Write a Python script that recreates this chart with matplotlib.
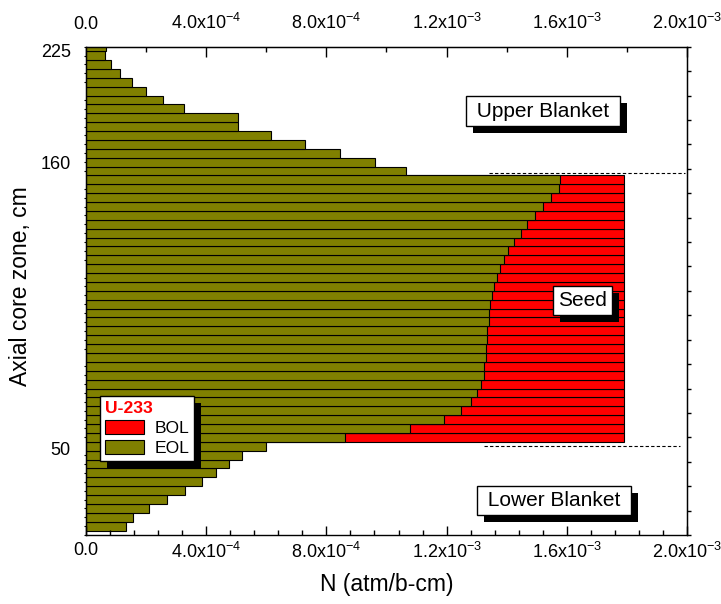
import numpy as np
import matplotlib
matplotlib.use("Agg")
import matplotlib.pyplot as plt
import matplotlib.patheffects as pe
from matplotlib.ticker import MultipleLocator

plt.rcParams['font.family'] = ['Liberation Sans', 'DejaVu Sans']
plt.rcParams['mathtext.fontset'] = 'custom'
plt.rcParams['mathtext.rm'] = 'Liberation Sans'
plt.rcParams['mathtext.it'] = 'Liberation Sans:italic'
plt.rcParams['mathtext.bf'] = 'Liberation Sans:bold'

# one bar per axial zone, numbered from the bottom of the core
zone = np.arange(1, 56)

# U-233 density at end of life, in units of 1e-3 atm/b-cm (bottom to top)
eol = [0.132, 0.157, 0.211, 0.271, 0.331, 0.385, 0.434, 0.477, 0.519, 0.599,   # lower blanket
       0.862, 1.077, 1.190, 1.247, 1.280, 1.301, 1.316, 1.323, 1.326, 1.330,   # seed
       1.332, 1.333, 1.336, 1.340, 1.342, 1.346, 1.352, 1.359, 1.368, 1.379,
       1.392, 1.406, 1.425, 1.446, 1.469, 1.493, 1.521, 1.548, 1.573, 1.576,
       1.066, 0.962, 0.846, 0.728, 0.614, 0.507, 0.507, 0.327, 0.257, 0.199,   # upper blanket
       0.152, 0.113, 0.083, 0.064, 0.067]

# beginning of life: U-233 only loaded in the seed zones
seed_zone = np.arange(11, 41)
bol = [1.79, 1.79, 1.79, 1.79, 1.79, 1.79, 1.79, 1.79, 1.79, 1.79,
       1.79, 1.79, 1.79, 1.79, 1.79, 1.79, 1.79, 1.79, 1.79, 1.79,
       1.79, 1.79, 1.79, 1.79, 1.79, 1.79, 1.79, 1.79, 1.79, 1.79]

xticks = [0.0, 4e-4, 8e-4, 1.2e-3, 1.6e-3, 2.0e-3]
xticklabels = ["0.0", r"4.0x10$^{-4}$", r"8.0x10$^{-4}$",
               r"1.2x10$^{-3}$", r"1.6x10$^{-3}$", r"2.0x10$^{-3}$"]

# axial height (cm) marks along the zone axis
height_pos = [9.7, 42.0, 54.6]
height_labels = ["50", "160", "225"]

# seed / blanket boundaries
boundary_y = [10.06, 40.8]
boundary_x0 = [1.325e-3, 1.34e-3]
boundary_x1 = [1.978e-3, 1.995e-3]

regions = [(" Upper Blanket ", 1.521e-3, 47.74),
           ("Seed", 1.653e-3, 26.44),
           (" Lower Blanket ", 1.557e-3, 3.91)]

shadow = [pe.SimplePatchShadow(offset=(5, -5), shadow_rgbFace='black', alpha=1.0),
          pe.Normal()]

fig = plt.figure(figsize=(7.21, 6.04), dpi=100)
ax = fig.add_axes([0.1193, 0.1142, 0.8335, 0.8085])

ax.barh(seed_zone, np.array(bol) * 1e-3, height=1.0, color='#ff0000',
        edgecolor='black', linewidth=0.8, label='BOL')
ax.barh(zone, np.array(eol) * 1e-3, height=1.0, color='#808000',
        edgecolor='black', linewidth=0.8, label='EOL')

ax.set_xlim(0, 2.0e-3)
ax.set_ylim(0, 55)

for y, x0, x1 in zip(boundary_y, boundary_x0, boundary_x1):
    ax.hlines(y, x0, x1, colors='black', linestyles=(0, (3, 2)), linewidth=0.8)

for s in ax.spines.values():
    s.set_linewidth(1.0)

# bottom axis
ax.set_xticks(xticks, xticklabels)
ax.xaxis.set_minor_locator(MultipleLocator(8e-5))
ax.tick_params(axis='x', which='major', direction='in', length=6.5, width=1,
               labelsize=13, pad=5)
ax.tick_params(axis='x', which='minor', direction='in', length=3.5, width=1)

# top axis, same scale
top = ax.secondary_xaxis('top')
top.set_xticks(xticks, xticklabels)
top.xaxis.set_minor_locator(MultipleLocator(2e-4))
top.tick_params(axis='x', which='major', direction='in', length=7, width=1,
                labelsize=13, pad=10)
top.tick_params(axis='x', which='minor', direction='in', length=3.5, width=1)

# left axis: height labels plus zone ticks
ax.set_yticks(height_pos, height_labels)
ax.tick_params(axis='y', which='major', length=0, labelsize=13, pad=11)
left = ax.secondary_yaxis('left')
left.set_yticks([10, 20, 30, 40, 50])
left.yaxis.set_minor_locator(MultipleLocator(1))
left.tick_params(axis='y', which='major', direction='in', length=6.5, width=1,
                 labelleft=False)
left.tick_params(axis='y', which='minor', direction='inout', length=3, width=0.8)

# right axis: plain ticks
right = ax.secondary_yaxis('right', functions=(lambda y: y * 20 / 55,
                                               lambda y: y * 55 / 20))
right.yaxis.set_major_locator(MultipleLocator(1))
right.tick_params(axis='y', which='major', direction='out', length=3, width=1,
                  labelright=False)

ax.set_xlabel('N (atm/b-cm)', fontsize=16.5)
ax.xaxis.set_label_coords(0.5, -0.078)
ax.set_ylabel('Axial core zone, cm', fontsize=16.5)
ax.yaxis.set_label_coords(-0.09, 0.51)

for text, x, y in regions:
    t = ax.text(x, y, text, fontsize=15, ha='center', va='center', zorder=6,
                bbox=dict(boxstyle='square,pad=0.25', fc='white', ec='black', lw=1))
    t.get_bbox_patch().set_path_effects(shadow)

leg = ax.legend(title='U-233', loc='upper left', bbox_to_anchor=(0.0233, 0.285),
                borderaxespad=0, fancybox=False, edgecolor='black', framealpha=1,
                fontsize=12.6, title_fontproperties={'weight': 'bold', 'size': 12.6},
                alignment='left', handlelength=2.2, handleheight=0.85,
                handletextpad=0.6, labelspacing=0.22, borderpad=0.3)
leg.get_title().set_color('#ff0000')
leg.get_frame().set_linewidth(1)
leg.legendPatch.set_path_effects(shadow)
leg.set_zorder(7)

fig.savefig('out.png', dpi=100)
